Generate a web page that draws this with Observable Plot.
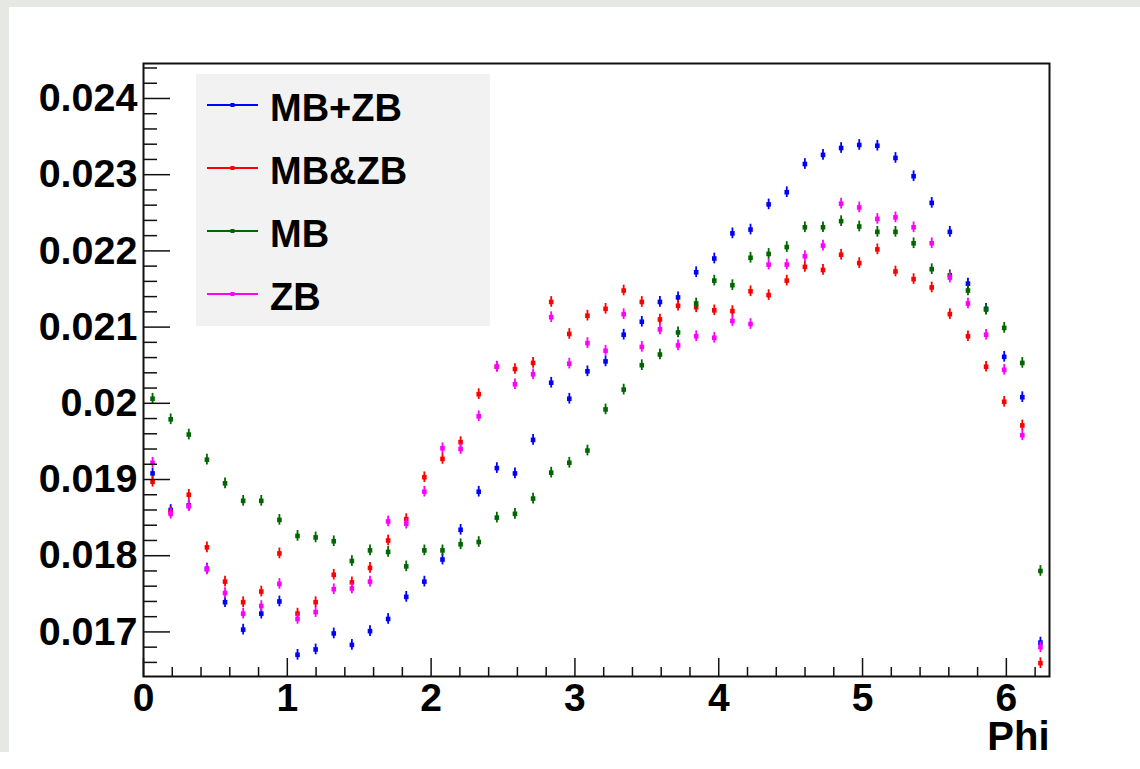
<!DOCTYPE html>
<html><head><meta charset="utf-8">
<script src="https://cdn.jsdelivr.net/npm/d3@7"></script>
<script src="https://cdn.jsdelivr.net/npm/@observablehq/plot@0.6"></script>
<style>
html,body{margin:0;padding:0;background:#fff;width:1140px;height:769px;overflow:hidden;position:relative;font-family:"Liberation Sans",Arial,sans-serif;}
#gtop{position:absolute;left:0;top:0;width:1140px;height:7px;background:#e6e8e4;}
#gleft{position:absolute;left:0;top:0;width:9px;height:752px;background:#e6e8e4;}
#chart{position:absolute;left:0;top:0;}
#legend{position:absolute;left:196px;top:74px;width:294px;height:252px;background:#f2f2f2;}
</style></head>
<body>
<div id="gtop"></div><div id="gleft"></div>
<div id="chart"></div>
<div id="legend"></div>
<script>
// bin centres (Phi)
const phi = [0.063,0.189,0.315,0.441,0.567,0.693,0.819,0.945,1.071,1.197,
  1.323,1.449,1.575,1.701,1.827,1.953,2.079,2.205,2.331,2.457,
  2.583,2.709,2.835,2.961,3.087,3.213,3.339,3.465,3.591,3.717,
  3.843,3.969,4.095,4.221,4.347,4.473,4.599,4.725,4.851,4.977,
  5.103,5.229,5.355,5.481,5.607,5.733,5.859,5.985,6.111,6.237];

const mbPlusZb = [0.01908,0.01860,0.01866,0.01783,0.01739,0.01703,0.01724,0.01740,0.01670,0.01677,
  0.01698,0.01683,0.01701,0.01717,0.01746,0.01766,0.01795,0.01834,0.01884,0.01915,
  0.01908,0.01952,0.02027,0.02006,0.02042,0.02055,0.02090,0.02107,0.02133,0.02139,
  0.02172,0.02190,0.02223,0.02228,0.02261,0.02277,0.02314,0.02326,0.02335,0.02339,
  0.02338,0.02322,0.02298,0.02263,0.02225,0.02157,0.02124,0.02061,0.02008,0.01686];

const mbAndZb = [0.01897,0.01857,0.01880,0.01811,0.01766,0.01739,0.01753,0.01803,0.01724,0.01739,
  0.01775,0.01765,0.01784,0.01820,0.01848,0.01903,0.01927,0.01949,0.02012,0.02048,
  0.02045,0.02053,0.02133,0.02091,0.02115,0.02124,0.02148,0.02133,0.02110,0.02128,
  0.02126,0.02122,0.02121,0.02147,0.02142,0.02161,0.02179,0.02175,0.02195,0.02184,
  0.02202,0.02173,0.02163,0.02152,0.02117,0.02088,0.02048,0.02002,0.01971,0.01659];

const mb = [0.02006,0.01979,0.01959,0.01926,0.01895,0.01872,0.01872,0.01847,0.01826,0.01824,
  0.01819,0.01793,0.01807,0.01805,0.01786,0.01807,0.01807,0.01815,0.01818,0.01850,
  0.01855,0.01875,0.01909,0.01922,0.01938,0.01992,0.02018,0.02050,0.02064,0.02093,
  0.02131,0.02161,0.02155,0.02191,0.02196,0.02205,0.02231,0.02231,0.02239,0.02232,
  0.02225,0.02225,0.02210,0.02176,0.02168,0.02148,0.02123,0.02099,0.02053,0.01780];

const zb = [0.01922,0.01855,0.01865,0.01782,0.01751,0.01724,0.01734,0.01763,0.01717,0.01726,
  0.01756,0.01757,0.01766,0.01845,0.01842,0.01884,0.01941,0.01940,0.01983,0.02048,
  0.02025,0.02038,0.02113,0.02052,0.02079,0.02069,0.02117,0.02074,0.02097,0.02076,
  0.02088,0.02086,0.02108,0.02104,0.02182,0.02182,0.02193,0.02207,0.02262,0.02257,
  0.02242,0.02244,0.02231,0.02210,0.02165,0.02131,0.02090,0.02044,0.01958,0.01680];

const errBar = 0.00007;

const seriesNames = ["MB+ZB","MB&ZB","MB","ZB"];
const seriesValues = [mbPlusZb, mbAndZb, mb, zb];
const seriesColors = ["#0000ff","#ff0000","#006600","#ff00ff"];

const xMajorTicks = [0,1,2,3,4,5,6];
const yMajorTicks = [0.017,0.018,0.019,0.020,0.021,0.022,0.023,0.024];
const xDomain = [0, 6.3];
const yDomain = [0.016415, 0.024459];

const W = 1140, H = 769, mL = 143, mR = 91, mT = 63, mB = 93;
const plotW = W - mL - mR, plotH = H - mT - mB;

const xMinor = d3.range(0, 6.3, 0.2).map(v => +v.toFixed(1)).filter(v => !xMajorTicks.includes(v));
const yMinor = d3.range(0.0164, 0.0245, 0.0002).map(v => +v.toFixed(4))
  .filter(v => v >= yDomain[0] && v <= yDomain[1] && !yMajorTicks.some(t => Math.abs(t - v) < 1e-9));

const marks = [];
seriesValues.forEach((vals, si) => {
  const rows = phi.map((x, i) => ({x, y: vals[i]}));
  marks.push(Plot.ruleX(rows, {x: "x", y1: d => d.y - errBar, y2: d => d.y + errBar,
    stroke: seriesColors[si], strokeWidth: 1.8}));
  marks.push(Plot.dot(rows, {x: "x", y: "y", symbol: "square", r: 2.6,
    fill: seriesColors[si], stroke: "none"}));
});

const tickColor = "#111";
marks.push(Plot.tickY(yMajorTicks, {y: d => d, insetRight: plotW - 27, stroke: tickColor, strokeWidth: 1.5}));
marks.push(Plot.tickY(yMinor, {y: d => d, insetRight: plotW - 14, stroke: tickColor, strokeWidth: 1.5}));
marks.push(Plot.tickX(xMajorTicks, {x: d => d, insetTop: plotH - 18, stroke: tickColor, strokeWidth: 1.5}));
marks.push(Plot.tickX(xMinor, {x: d => d, insetTop: plotH - 9, stroke: tickColor, strokeWidth: 1.5}));
marks.push(Plot.frame({stroke: tickColor, strokeWidth: 2}));
marks.push(Plot.axisY({ticks: yMajorTicks, tickSize: 0, tickPadding: 6, fontSize: 39.5, fontWeight: "bold",
  tickFormat: d => String(+d.toFixed(3)), label: null}));
marks.push(Plot.axisX({ticks: xMajorTicks, tickSize: 0, tickPadding: 7, fontSize: 39, fontWeight: "bold",
  tickFormat: d => String(d), label: null}));
marks.push(Plot.text(["Phi"], {text: d => d, frameAnchor: "bottom-right", dy: 73, textAnchor: "end",
  fontSize: 40, fontWeight: "bold", fill: "black"}));

const chart = Plot.plot({
  width: W, height: H,
  marginLeft: mL, marginRight: mR, marginTop: mT, marginBottom: mB,
  x: {domain: xDomain, label: null},
  y: {domain: yDomain, label: null},
  style: {background: "transparent", fontFamily: "'Liberation Sans', Arial, sans-serif", fontWeight: "bold", color: "black"},
  marks
});
document.getElementById("chart").appendChild(chart);

// legend
const lg = d3.select("#legend").append("svg").attr("width", 294).attr("height", 252)
  .style("position", "absolute").style("left", 0).style("top", 0);
seriesNames.forEach((name, i) => {
  const cy = 31 + 63 * i;
  lg.append("line").attr("x1", 11).attr("x2", 62).attr("y1", cy).attr("y2", cy)
    .attr("stroke", seriesColors[i]).attr("stroke-width", 2);
  lg.append("rect").attr("x", 34.5).attr("y", cy - 2).attr("width", 4).attr("height", 4)
    .attr("fill", seriesColors[i]);
  lg.append("text").attr("x", 74).attr("y", cy + 16).text(name)
    .attr("font-family", "'Liberation Sans', Arial, sans-serif").attr("font-weight", "bold")
    .attr("font-size", 38).attr("fill", "black");
});
</script>
</body></html>
